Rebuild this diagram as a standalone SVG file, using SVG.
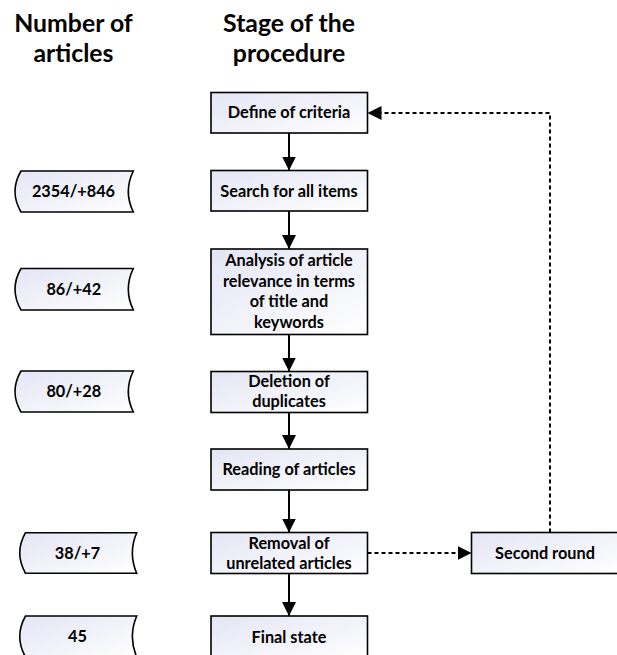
<svg xmlns="http://www.w3.org/2000/svg" width="617" height="655" viewBox="0 0 617 655">
<defs>
<linearGradient id="g" x1="0" y1="0" x2="1" y2="1">
<stop offset="0" stop-color="#e3e5f4"/>
<stop offset="1" stop-color="#ffffff"/>
</linearGradient>
<marker id="ah" viewBox="0 0 10 10" refX="10" refY="5" markerWidth="14" markerHeight="15" markerUnits="userSpaceOnUse" orient="auto">
<path d="M0,0 L10,5 L0,10 z" fill="#000"/>
</marker>
<style>
.box{fill:url(#g);stroke:#000;stroke-width:1.6}
.t{font-family:Lato,"Liberation Sans",sans-serif;font-weight:bold;font-size:16.3px;fill:#000;text-anchor:middle}
.h{font-family:Lato,"Liberation Sans",sans-serif;font-weight:bold;font-size:24.8px;fill:#000;text-anchor:middle}
.c{fill:none;stroke:#000;stroke-width:2}
.d{fill:none;stroke:#000;stroke-width:2;stroke-dasharray:4 3}
</style>
</defs>
<rect width="617" height="655" fill="#fff"/>
<g id="headers">
<text class="h" x="73.5" y="32">Number of</text>
<text class="h" x="73.5" y="62">articles</text>
<text class="h" x="289" y="32">Stage of the</text>
<text class="h" x="289" y="62">procedure</text>
</g>
<g id="connectors">
<line class="c" x1="289" y1="133" x2="289" y2="170.5" marker-end="url(#ah)"/>
<line class="c" x1="289" y1="211" x2="289" y2="249" marker-end="url(#ah)"/>
<line class="c" x1="289" y1="334.5" x2="289" y2="371.5" marker-end="url(#ah)"/>
<line class="c" x1="289" y1="412.5" x2="289" y2="449" marker-end="url(#ah)"/>
<line class="c" x1="289" y1="490" x2="289" y2="532.5" marker-end="url(#ah)"/>
<line class="c" x1="289" y1="573.5" x2="289" y2="616" marker-end="url(#ah)"/>
<line class="d" x1="367.5" y1="553" x2="471.5" y2="553" marker-end="url(#ah)"/>
<polyline class="d" points="550,532.5 550,113 367.5,113" marker-end="url(#ah)"/>
</g>
<g id="n-define"><rect class="box" x="211" y="92.5" width="156.5" height="40.5"/><text class="t" x="289" y="118">Define of criteria</text></g>
<g id="n-search"><rect class="box" x="211" y="170.5" width="156.5" height="40.5"/><text class="t" x="289" y="196.5">Search for all items</text></g>
<g id="n-analysis"><rect class="box" x="211" y="249" width="156.5" height="85.5"/><text class="t" x="289" y="266">Analysis of article</text><text class="t" x="289" y="286.5">relevance in terms</text><text class="t" x="289" y="307">of title and</text><text class="t" x="289" y="327.5">keywords</text></g>
<g id="n-deletion"><rect class="box" x="211" y="371.5" width="156.5" height="41"/><text class="t" x="289" y="387">Deletion of</text><text class="t" x="289" y="407">duplicates</text></g>
<g id="n-reading"><rect class="box" x="211" y="449" width="156.5" height="41"/><text class="t" x="289" y="475">Reading of articles</text></g>
<g id="n-removal"><rect class="box" x="211" y="532.5" width="156.5" height="41"/><text class="t" x="289" y="548.5">Removal of</text><text class="t" x="289" y="568.5">unrelated articles</text></g>
<g id="n-final"><rect class="box" x="211" y="616" width="156.5" height="41"/><text class="t" x="289" y="642.5">Final state</text></g>
<g id="n-second"><rect class="box" x="471.5" y="532.5" width="147" height="41"/><text class="t" x="545" y="558.5">Second round</text></g>
<g id="tag-2354"><path class="box" d="M21,171 L133.3,171 Q123.3,191.5 133.3,212 L21,212 Q9,191.5 21,171 Z"/><text class="t" x="73.5" y="196.5">2354/+846</text></g>
<g id="tag-86"><path class="box" d="M21,268.5 L133.3,268.5 Q123.3,289.2 133.3,310 L21,310 Q9,289.2 21,268.5 Z"/><text class="t" x="73.8" y="295">86/+42</text></g>
<g id="tag-80"><path class="box" d="M21,371 L133.3,371 Q123.3,391.5 133.3,412 L21,412 Q9,391.5 21,371 Z"/><text class="t" x="73.8" y="397">80/+28</text></g>
<g id="tag-38"><path class="box" d="M25.5,532.7 L136.7,532.7 Q128,553 136.7,573.3 L25.5,573.3 Q14,553 25.5,532.7 Z"/><text class="t" x="77.5" y="558.5">38/+7</text></g>
<g id="tag-45"><path class="box" d="M25.5,616 L136.7,616 Q128,636.5 136.7,657 L25.5,657 Q14,636.5 25.5,616 Z"/><text class="t" x="77.5" y="642">45</text></g>
</svg>
